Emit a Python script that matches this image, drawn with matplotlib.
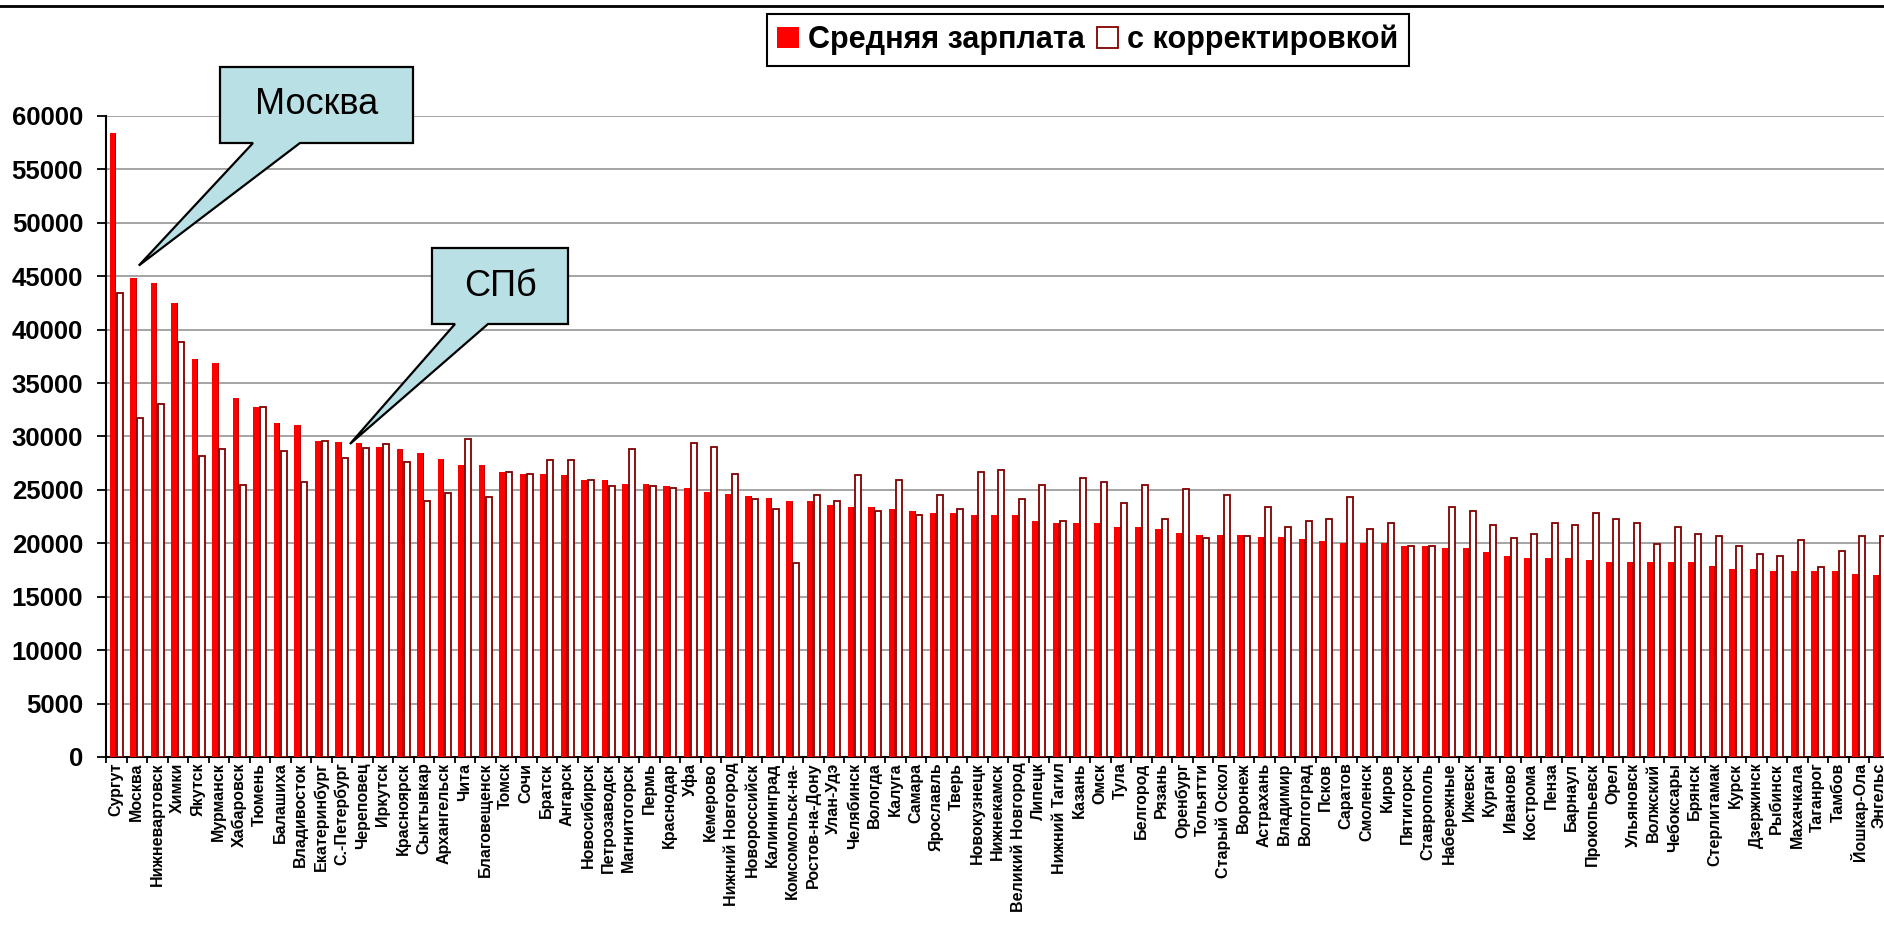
import numpy as np
import matplotlib
matplotlib.use("Agg")
import matplotlib.pyplot as plt
from matplotlib.patches import Patch, Polygon
from matplotlib.lines import Line2D

plt.rcParams['font.family'] = ['Liberation Sans', 'DejaVu Sans']

# cities, sorted by average salary
cities = [
    "Сургут", "Москва", "Нижневартовск", "Химки", "Якутск", "Мурманск", "Хабаровск",
    "Тюмень", "Балашиха", "Владивосток", "Екатеринбург", "С.-Петербург", "Череповец",
    "Иркутск", "Красноярск", "Сыктывкар", "Архангельск", "Чита", "Благовещенск", "Томск",
    "Сочи", "Братск", "Ангарск", "Новосибирск", "Петрозаводск", "Магнитогорск", "Пермь",
    "Краснодар", "Уфа", "Кемерово", "Нижний Новгород", "Новороссийск", "Калининград",
    "Комсомольск-на-", "Ростов-на-Дону", "Улан-Удэ", "Челябинск", "Вологда", "Калуга",
    "Самара", "Ярославль", "Тверь", "Новокузнецк", "Нижнекамск", "Великий Новгород",
    "Липецк", "Нижний Тагил", "Казань", "Омск", "Тула", "Белгород", "Рязань", "Оренбург",
    "Тольятти", "Старый Оскол", "Воронеж", "Астрахань", "Владимир", "Волгоград", "Псков",
    "Саратов", "Смоленск", "Киров", "Пятигорск", "Ставрополь", "Набережные", "Ижевск",
    "Курган", "Иваново", "Кострома", "Пенза", "Барнаул", "Прокопьевск", "Орел",
    "Ульяновск", "Волжский", "Чебоксары", "Брянск", "Стерлитамак", "Курск", "Дзержинск",
    "Рыбинск", "Махачкала", "Таганрог", "Тамбов", "Йошкар-Ола", "Энгельс",
]

avg_salary = [
    58450, 44800, 44400, 42500, 37300, 36900, 33600, 32800, 31300, 31100, 29600, 29500,
    29400, 29000, 28800, 28450, 27900, 27300, 27300, 26700, 26500, 26500, 26350, 25930,
    25930, 25560, 25560, 25370, 25200, 24780, 24600, 24400, 24200, 23980, 23980, 23600,
    23420, 23420, 23230, 23040, 22860, 22860, 22670, 22670, 22670, 22080, 21890, 21890,
    21890, 21520, 21500, 21340, 20930, 20750, 20750, 20750, 20560, 20560, 20370, 20190,
    20000, 20000, 20000, 19780, 19780, 19600, 19600, 19190, 18820, 18630, 18630, 18630,
    18450, 18230, 18230, 18230, 18230, 18230, 17860, 17640, 17640, 17450, 17450, 17450,
    17450, 17100, 17000,
]

adjusted = [
    43400, 31700, 33000, 38800, 28200, 28800, 25500, 32800, 28600, 25700, 29600, 28000,
    28900, 29300, 27600, 23980, 24750, 29750, 24380, 26650, 26460, 27830, 27830, 25900,
    25340, 28820, 25340, 25160, 29350, 28980, 26490, 24160, 23170, 18200, 24530, 23980,
    26430, 22980, 25900, 22610, 24530, 23200, 26650, 26830, 24160, 25500, 22050, 26090,
    25710, 23760, 25500, 22270, 25120, 20500, 24530, 20680, 23390, 21490, 22050, 22270,
    24350, 21300, 21860, 19750, 19750, 23390, 23010, 21680, 20500, 20870, 21860, 21680,
    22800, 22240, 21860, 19900, 21490, 20870, 20680, 19720, 18980, 18790, 20310, 17830,
    19320, 20680, 20680,
]

W, H = 1884, 939
fig = plt.figure(figsize=(W / 100, H / 100), dpi=100)
ax = fig.add_axes([106 / W, 1 - 757 / H, (W - 106) / W, (757 - 116) / H])

x = np.arange(len(cities))
bw = 0.32
ax.bar(x - bw / 2, avg_salary, width=bw, color='#ff0000', linewidth=0, zorder=3)
# thin darker shading on the right side of the red bars
ax.bar(x - 0.03, avg_salary, width=0.06, color='#c00000', linewidth=0, zorder=3)
ax.bar(x + bw / 2, adjusted, width=bw * 0.92, color='white', edgecolor='#800000',
       linewidth=1.3, zorder=3)

ax.set_ylim(0, 60000)
ax.set_xlim(-0.5, -0.5 + (W - 106) / 20.5)
ax.set_yticks(np.arange(0, 60001, 5000))
ax.yaxis.grid(True, color='#8c8c8c', linewidth=1.1)
ax.set_axisbelow(True)

for s in ['top', 'right']:
    ax.spines[s].set_visible(False)
for s in ['left', 'bottom']:
    ax.spines[s].set_linewidth(1.5)
    ax.spines[s].set_color('black')

ax.tick_params(axis='y', length=6.5, width=1.3, pad=10, labelsize=18.5)
for lbl in ax.get_yticklabels():
    lbl.set_fontweight('bold')

ax.set_xticks(x)
ax.set_xticklabels(cities, rotation=90, fontsize=11.5, fontweight='bold',
                   ha='center', va='top')
ax.tick_params(axis='x', which='major', length=0, pad=4)
ax.set_xticks(np.arange(len(cities)) - 0.5, minor=True)
ax.tick_params(axis='x', which='minor', length=4, width=1.3)


def px2data(px, py):
    return (px - 106) / 20.5 - 0.5, (757 - py) / 641 * 60000


def callout(text, box, base, tip, fs):
    (bx0, by0), (bx1, by1) = px2data(box[0], box[1]), px2data(box[2], box[3])
    t0 = px2data(base[0], box[3])[0]
    t1 = px2data(base[1], box[3])[0]
    verts = [(bx0, by0), (bx1, by0), (bx1, by1), (t1, by1), tip, (t0, by1), (bx0, by1)]
    ax.add_patch(Polygon(verts, closed=True, facecolor='#b9e0e4', edgecolor='black',
                         linewidth=1.6, clip_on=False, zorder=6))
    ax.text((bx0 + bx1) / 2, (by0 + by1) / 2, text, fontsize=fs, ha='center',
            va='center', zorder=7, clip_on=False)


i_msk = cities.index("Москва")
i_spb = cities.index("С.-Петербург")
callout("Москва", (220, 67, 413, 143), (253, 300), (i_msk + 0.1, avg_salary[i_msk] + 1200), 26)
callout("СПб", (432, 248, 568, 324), (455, 488), (i_spb + 0.4, avg_salary[i_spb] - 200), 26)

handles = [Patch(facecolor='#ff0000', edgecolor='none', label='Средняя зарплата'),
           Patch(facecolor='white', edgecolor='#800000', linewidth=1.3, label='с корректировкой')]
leg = fig.legend(handles=handles, loc='center', bbox_to_anchor=(1088 / W, 1 - 40 / H),
                 ncol=2, frameon=True, fancybox=False, framealpha=1, edgecolor='black',
                 prop={'weight': 'bold', 'size': 22}, handlelength=0.7, handleheight=0.7,
                 handletextpad=0.3, columnspacing=0.4, borderpad=0.35, borderaxespad=0)
leg.get_frame().set_linewidth(1.5)

fig.add_artist(Line2D([0, 1], [1 - 6 / H] * 2, color='black', linewidth=2))

fig.savefig('out.png', dpi=100)
